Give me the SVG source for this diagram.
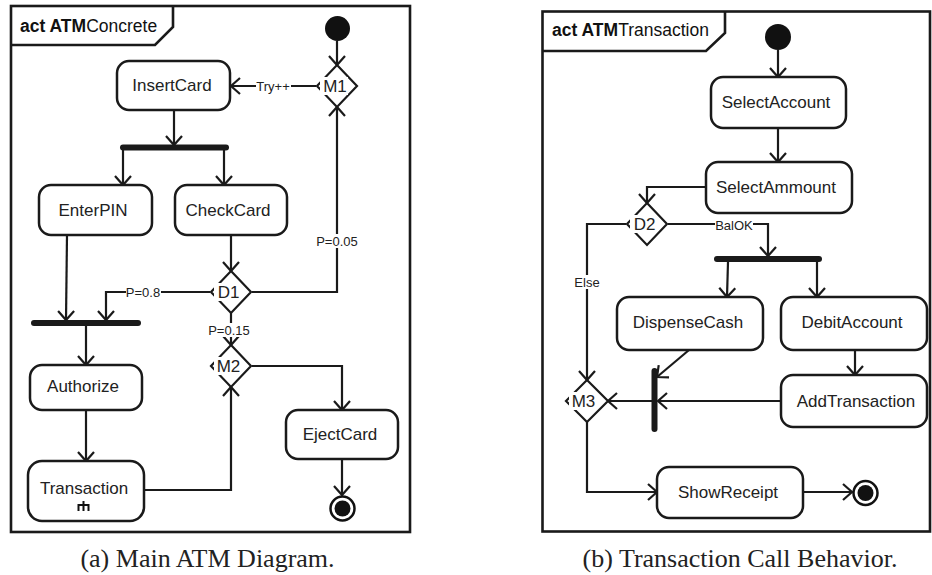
<svg xmlns="http://www.w3.org/2000/svg" width="932" height="575" viewBox="0 0 932 575">
<style>
.frame{fill:none;stroke:#1a1a1a;stroke-width:2.6}
.node{fill:#fff;stroke:#1a1a1a;stroke-width:2.5}
.dia{fill:#fff;stroke:#1a1a1a;stroke-width:2.2}
.bar{stroke:#1a1a1a;stroke-width:6;stroke-linecap:round}
.e{fill:none;stroke:#1a1a1a;stroke-width:2.2;marker-end:url(#ah)}
.t{font-family:"Liberation Sans",Arial,sans-serif;font-size:17px;fill:#222;text-anchor:middle}
.lbl{font-family:"Liberation Sans",Arial,sans-serif;font-size:13px;fill:#222;text-anchor:middle}
.hd{font-family:"Liberation Sans",Arial,sans-serif;font-size:17.5px;fill:#111}
.cap{font-family:"Liberation Serif","Times New Roman",serif;font-size:26px;fill:#222;text-anchor:middle}
.wb{fill:#fff;stroke:none}
</style>
<defs>
<marker id="ah" markerWidth="24" markerHeight="24" viewBox="-12 -12 24 24" refX="0" refY="0" orient="auto" markerUnits="userSpaceOnUse">
<path d="M-9,-8 L0,0 L-9,8" fill="none" stroke="#1a1a1a" stroke-width="2.2"/>
</marker>
</defs>
<rect width="932" height="575" fill="#fff"/>

<!-- Left frame -->
<g id="frameA">
<rect class="frame" x="11" y="6" width="399" height="526"/>
<path class="frame" d="M11,45 L155,45 L173,27 L173,6"/>
<text class="hd" x="20" y="32"><tspan font-weight="bold">act ATM</tspan>Concrete</text>
</g>

<!-- Right frame -->
<g id="frameB">
<rect class="frame" x="542.5" y="11.5" width="387.5" height="520"/>
<path class="frame" d="M542.5,51 L706,51 L725,33 L725,11.5"/>
<text class="hd" x="552" y="36"><tspan font-weight="bold">act ATM</tspan>Transaction</text>
</g>

<!-- Connectors -->
<g id="connectors">
<path class="e" d="M337,41 L337,65"/>
<path class="e" d="M316,86 L231,86"/>
<path class="e" d="M174,110 L174,145"/>
<path class="e" d="M123,148 L123,185"/>
<path class="e" d="M224,148 L224,185"/>
<path class="e" d="M67,235 L66,320"/>
<path class="e" d="M231,235 L231,271"/>
<path class="e" d="M210,292 L106,292 L106,320"/>
<path class="e" d="M252,292 L337,292 L337,107"/>
<path class="e" d="M231,313 L231,345"/>
<path class="e" d="M252,366 L342,366 L342,410"/>
<path class="e" d="M86,326 L86,365"/>
<path class="e" d="M86,410 L86,461"/>
<path class="e" d="M144,490 L231,490 L231,387"/>
<path class="e" d="M342,459 L342,495"/>

<path class="e" d="M778,50 L778,77"/>
<path class="e" d="M778,128 L778,162"/>
<path class="e" d="M706,187 L647,187 L647,203"/>
<path class="e" d="M668,224 L768,224 L768,256"/>
<path class="e" d="M728,262 L727,297"/>
<path class="e" d="M817,262 L817,297"/>
<path class="e" d="M626,224 L587,224 L587,380"/>
<path class="e" d="M689,350 L657,377"/>
<path class="e" d="M855,350 L855,375"/>
<path class="e" d="M781,401 L658,401"/>
<path class="e" d="M652,401 L608,401"/>
<path class="e" d="M587,422 L587,492 L657,492"/>
<path class="e" d="M803,492 L852,492"/>

<rect class="wb" x="256" y="79" width="35" height="14"/>
<text class="lbl" x="273" y="90.5">Try++</text>
<rect class="wb" x="316" y="234" width="42" height="14"/>
<text class="lbl" x="337" y="245.5">P=0.05</text>
<rect class="wb" x="126" y="285" width="35" height="14"/>
<text class="lbl" x="143" y="296.5">P=0.8</text>
<rect class="wb" x="208" y="323" width="42" height="14"/>
<text class="lbl" x="229" y="334.5">P=0.15</text>
<rect class="wb" x="715" y="218" width="38" height="14"/>
<text class="lbl" x="734" y="229.5">BalOK</text>
<rect class="wb" x="574" y="275" width="26" height="14"/>
<text class="lbl" x="587" y="286.5">Else</text>
</g>

<!-- Left nodes -->
<g id="initA"><circle cx="337.5" cy="28.5" r="12.5" fill="#111"/></g>
<g id="M1">
<polygon class="dia" points="337,65 357,86 337,107 317,86"/>
<rect class="wb" x="320" y="77" width="28" height="18"/>
<text class="t" x="335" y="92">M1</text>
</g>
<g id="InsertCard"><rect class="node" x="117" y="61" width="113" height="49" rx="12"/><text class="t" x="172" y="91">InsertCard</text></g>
<g id="fork1"><line class="bar" x1="123" y1="147.5" x2="226" y2="147.5"/></g>
<g id="EnterPIN"><rect class="node" x="39" y="185" width="113" height="50" rx="12"/><text class="t" x="93" y="216">EnterPIN</text></g>
<g id="CheckCard"><rect class="node" x="175" y="185" width="112" height="50" rx="12"/><text class="t" x="228" y="216">CheckCard</text></g>
<g id="D1">
<polygon class="dia" points="231,271 251,292 231,313 211,292"/>
<rect class="wb" x="214" y="283" width="26" height="18"/>
<text class="t" x="228.5" y="298">D1</text>
</g>
<g id="join1"><line class="bar" x1="34" y1="323" x2="138" y2="323"/></g>
<g id="M2">
<polygon class="dia" points="231,345 251,366 231,387 211,366"/>
<rect class="wb" x="214" y="357" width="27" height="18"/>
<text class="t" x="228.5" y="372">M2</text>
</g>
<g id="Authorize"><rect class="node" x="30" y="365" width="112" height="45" rx="12"/><text class="t" x="83" y="392">Authorize</text></g>
<g id="Transaction"><rect class="node" x="28" y="461" width="116" height="60" rx="14"/><text class="t" x="84" y="494">Transaction</text>
<path d="M78.5,511 L78.5,505 L88.5,505 L88.5,511 M83.5,501 L83.5,511" fill="none" stroke="#111" stroke-width="2"/></g>
<g id="EjectCard"><rect class="node" x="286" y="410" width="112" height="49" rx="12"/><text class="t" x="340" y="440">EjectCard</text></g>
<g id="finalA"><circle cx="342.5" cy="508.5" r="12" fill="#fff" stroke="#111" stroke-width="2.5"/><circle cx="342.5" cy="508.5" r="8" fill="#111"/></g>

<!-- Right nodes -->
<g id="initB"><circle cx="778" cy="37" r="13" fill="#111"/></g>
<g id="SelectAccount"><rect class="node" x="711" y="77" width="135" height="51" rx="12"/><text class="t" x="776" y="108">SelectAccount</text></g>
<g id="SelectAmmount"><rect class="node" x="706" y="162" width="146" height="51" rx="12"/><text class="t" x="776" y="193">SelectAmmount</text></g>
<g id="D2">
<polygon class="dia" points="647,203 667,224 647,245 627,224"/>
<rect class="wb" x="630" y="215" width="26" height="18"/>
<text class="t" x="644.5" y="230">D2</text>
</g>
<g id="fork2"><line class="bar" x1="717" y1="259" x2="819" y2="259"/></g>
<g id="DispenseCash"><rect class="node" x="617" y="297" width="146" height="53" rx="12"/><text class="t" x="688" y="328">DispenseCash</text></g>
<g id="DebitAccount"><rect class="node" x="781" y="297" width="146" height="53" rx="12"/><text class="t" x="852" y="328">DebitAccount</text></g>
<g id="join2"><line class="bar" x1="654.5" y1="371" x2="654.5" y2="429"/></g>
<g id="AddTransaction"><rect class="node" x="781" y="375" width="146" height="52" rx="12"/><text class="t" x="856" y="407">AddTransaction</text></g>
<g id="M3">
<polygon class="dia" points="587,380 608,401 587,422 566,401"/>
<rect class="wb" x="569" y="392" width="27" height="18"/>
<text class="t" x="583.5" y="407">M3</text>
</g>
<g id="ShowReceipt"><rect class="node" x="657" y="467" width="146" height="51" rx="12"/><text class="t" x="728" y="498">ShowReceipt</text></g>
<g id="finalB"><circle cx="865.5" cy="493" r="12" fill="#fff" stroke="#111" stroke-width="2.5"/><circle cx="865.5" cy="493" r="8" fill="#111"/></g>

<!-- Captions -->
<text class="cap" x="207.5" y="567">(a) Main ATM Diagram.</text>
<text class="cap" x="740" y="567">(b) Transaction Call Behavior.</text>
</svg>
